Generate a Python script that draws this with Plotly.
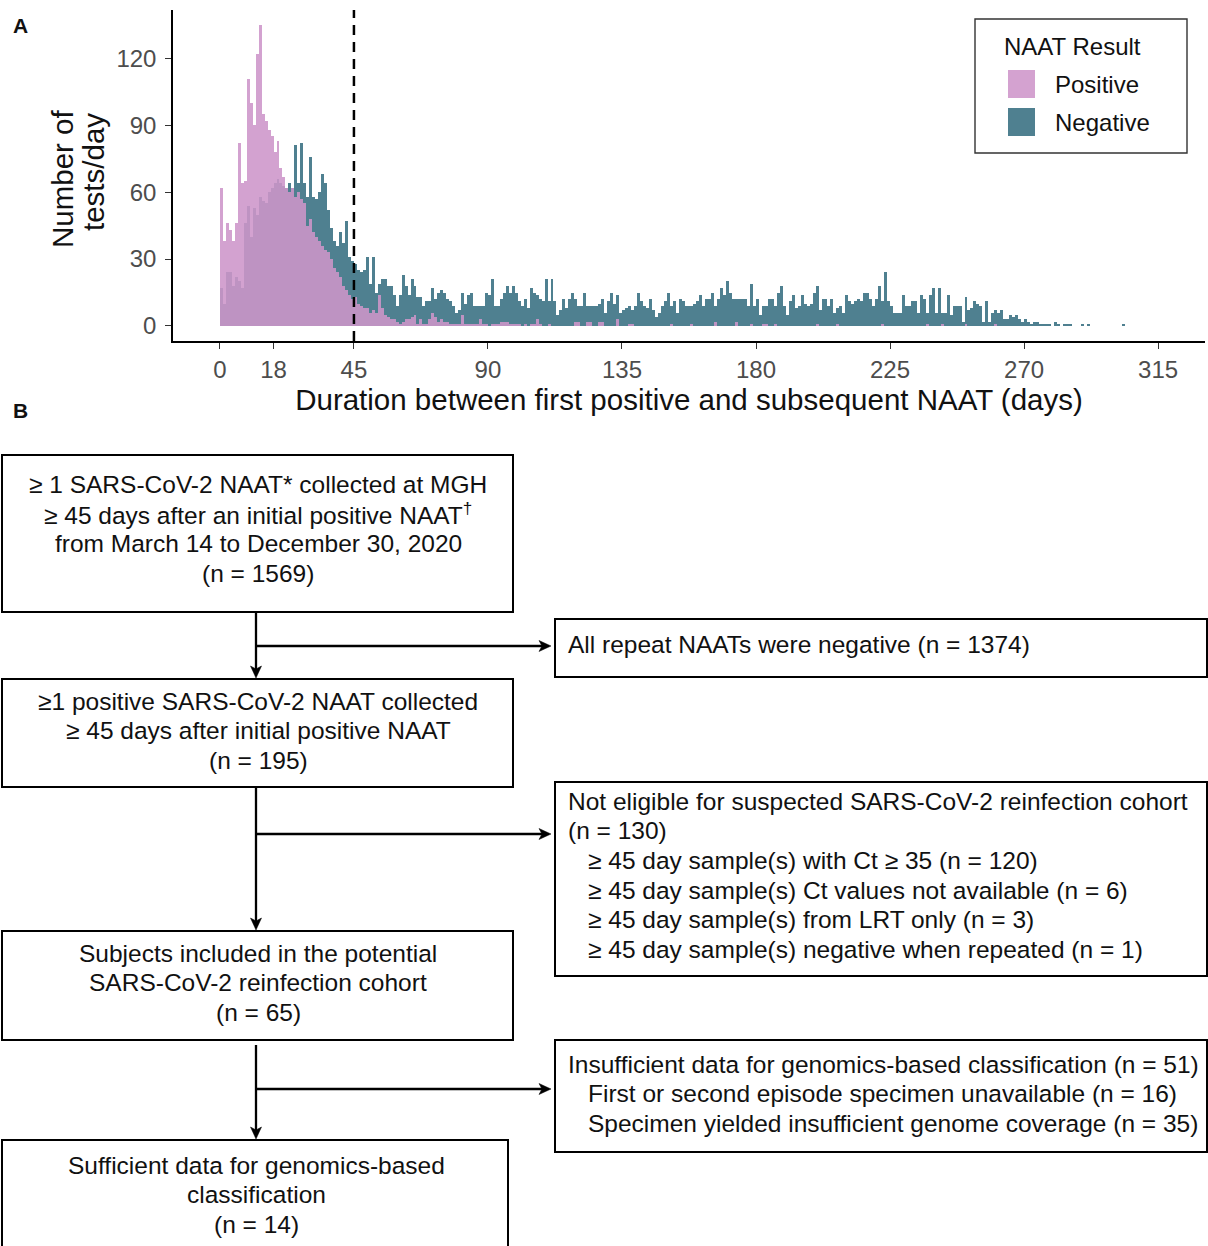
import plotly.graph_objects as go

W, H = 1208, 1246

# ---------------- Data ----------------
days = list(range(0, 315))

negative = [
    17, 10, 24, 24, 18, 22, 20, 17, 46, 54, 40, 53, 50, 58, 56, 55, 60, 62, 64, 66,
    64, 63, 62, 64, 62, 81, 64, 82, 64, 58, 76, 58, 57, 60, 68, 64, 52, 44, 38, 36,
    42, 37, 47, 31, 29, 28, 25, 24, 25, 31, 19, 31, 15, 19, 21, 21, 18, 18, 14, 9,
    14, 23, 18, 14, 21, 18, 13, 13, 9, 11, 11, 17, 12, 15, 16, 15, 12, 11, 9, 6,
    7, 15, 10, 14, 15, 9, 9, 9, 9, 15, 14, 21, 9, 9, 12, 15, 18, 15, 18, 15,
    11, 9, 12, 8, 17, 15, 14, 12, 11, 21, 11, 21, 11, 5, 7, 12, 8, 12, 15, 12,
    9, 9, 15, 9, 9, 9, 9, 10, 12, 6, 11, 15, 10, 14, 6, 7, 8, 9, 7, 9,
    15, 11, 9, 8, 12, 7, 4, 6, 9, 11, 15, 9, 11, 6, 12, 11, 9, 9, 9, 10,
    11, 14, 9, 12, 12, 15, 9, 12, 17, 14, 20, 15, 12, 12, 12, 12, 12, 9, 19, 9,
    12, 5, 9, 9, 12, 12, 9, 15, 18, 9, 5, 11, 14, 8, 9, 14, 10, 9, 10, 15,
    18, 7, 12, 12, 9, 12, 6, 8, 9, 6, 14, 11, 10, 11, 12, 11, 15, 15, 12, 9,
    12, 18, 11, 24, 11, 9, 6, 6, 6, 14, 9, 9, 11, 11, 6, 14, 12, 6, 14, 17,
    6, 17, 6, 6, 14, 5, 9, 9, 9, 2, 13, 7, 8, 11, 10, 9, 2, 11, 2, 6,
    7, 6, 7, 3, 3, 5, 4, 5, 3, 2, 3, 2, 1, 2, 2, 1, 1, 1, 1, 0,
    2, 1, 0, 1, 1, 1, 0, 0, 0, 1, 0, 1, 0, 0, 0, 0, 0, 0, 0, 0,
    0, 0, 0, 1, 0,
]

positive = [
    62, 38, 46, 43, 38, 46, 82, 64, 65, 111, 100, 90, 122, 135, 95, 92, 88, 85, 78, 83,
    71, 67, 62, 60, 62, 58, 60, 57, 55, 45, 48, 42, 40, 38, 36, 34, 33, 30, 26, 24,
    22, 18, 16, 14, 12, 13, 10, 9, 8, 8, 6, 7, 6, 14, 8, 5, 4, 3, 3, 2,
    1, 2, 3, 3, 4, 5, 1, 3, 1, 1, 3, 6, 4, 2, 3, 2, 2, 1, 1, 1,
    1, 5, 1, 1, 1, 1, 1, 3, 1, 1, 0, 1, 1, 1, 2, 2, 2, 1, 1, 1,
    1, 0, 1, 0, 1, 1, 3, 1, 0, 0, 1, 0, 0, 0, 0, 0, 0, 0, 0, 2,
    2, 0, 0, 2, 2, 0, 0, 2, 2, 0, 0, 0, 0, 3, 0, 0, 0, 1, 1, 0,
    0, 0, 0, 0, 0, 0, 0, 0, 0, 0, 0, 1, 0, 0, 0, 0, 0, 0, 1, 0,
    0, 0, 0, 0, 0, 0, 2, 0, 0, 0, 0, 0, 0, 2, 0, 0, 0, 0, 1, 0,
    0, 0, 1, 1, 0, 0, 1, 0, 0, 0, 0, 0, 0, 0, 0, 0, 0, 0, 0, 0,
    1, 0, 0, 0, 0, 0, 0, 1, 0, 0, 0, 0, 0, 0, 0, 0, 0, 0, 0, 0,
    0, 0, 1, 0, 0, 0, 0, 0, 0, 0, 0, 0, 0, 0, 0, 0, 0, 1, 0, 0,
    0, 0, 1, 0, 0, 0, 0, 0, 0, 0, 1, 0, 0, 0, 0, 0, 0, 0, 0, 0,
    1, 0, 0, 0, 0, 0, 0, 0, 0, 0, 0, 0, 0, 0, 0, 0, 0, 0, 0, 0,
    0, 0, 0, 0, 0, 0, 0, 0, 0, 0, 0, 0, 0, 0, 0, 0, 0, 0, 0, 0,
    0, 0, 0, 0, 0,
]

x_ticks = [0, 18, 45, 90, 135, 180, 225, 270, 315]
y_ticks = [0, 30, 60, 90, 120]
cutoff_day = 45

x_title = "Duration between first positive and subsequent NAAT (days)"
y_title_lines = ["Number of", "tests/day"]
legend_title = "NAAT Result"
legend_labels = ["Positive", "Negative"]

# Flowchart text
box1_lines = ["≥ 1 SARS-CoV-2 NAAT* collected at MGH",
              "≥ 45 days after an initial positive NAAT<sup>†</sup>",
              "from March 14 to December 30, 2020",
              "(n = 1569)"]
box2_lines = ["≥1 positive SARS-CoV-2 NAAT collected",
              "≥ 45 days after initial positive NAAT",
              "(n = 195)"]
box3_lines = ["Subjects included in the potential",
              "SARS-CoV-2 reinfection cohort",
              "(n = 65)"]
box4_lines = ["Sufficient data for genomics-based",
              "classification",
              "(n = 14)"]
side1_lines = [("All repeat NAATs were negative (n = 1374)", 0)]
side2_lines = [("Not eligible for suspected SARS-CoV-2 reinfection cohort", 0),
               ("(n = 130)", 0),
               ("≥ 45 day sample(s) with Ct ≥ 35 (n = 120)", 1),
               ("≥ 45 day sample(s) Ct values not available (n = 6)", 1),
               ("≥ 45 day sample(s) from LRT only (n = 3)", 1),
               ("≥ 45 day sample(s) negative when repeated (n = 1)", 1)]
side3_lines = [("Insufficient data for genomics-based classification (n = 51)", 0),
               ("First or second episode specimen unavailable (n = 16)", 1),
               ("Specimen yielded insufficient genome coverage (n = 35)", 1)]

# ---------------- Styling ----------------
FONT = "Liberation Sans, Arial, Helvetica, sans-serif"
TEAL = "#4F8090"
PINK = "rgb(206,150,202)"
PINK_OP = 0.88
PINK_SWATCH = "rgb(212,162,208)"
TXT = "#111111"


def px(x):
    return x / W


def py(y):
    return 1 - y / H


fig = go.Figure()
fig.add_trace(go.Bar(x=[d + 0.5 for d in days], y=negative, width=1,
                     marker=dict(color=TEAL, line=dict(width=0)),
                     name=legend_labels[1], showlegend=False))
fig.add_trace(go.Bar(x=[d + 0.5 for d in days], y=positive, width=1,
                     marker=dict(color=PINK, line=dict(width=0)), opacity=PINK_OP,
                     name=legend_labels[0], showlegend=False))

shapes = []
annotations = []

# dashed cutoff line
shapes.append(dict(type="line", xref="x", yref="y domain", x0=cutoff_day, x1=cutoff_day,
                   y0=0, y1=1, line=dict(color="black", width=2.5, dash="10px,7px")))

# manual legend
shapes.append(dict(type="rect", xref="paper", yref="paper", x0=px(975), x1=px(1187),
                   y0=py(19), y1=py(153), line=dict(color="#333333", width=1.4)))
shapes.append(dict(type="rect", xref="paper", yref="paper", x0=px(1008), x1=px(1035),
                   y0=py(70), y1=py(98), line=dict(width=0), fillcolor=PINK_SWATCH))
shapes.append(dict(type="rect", xref="paper", yref="paper", x0=px(1008), x1=px(1035),
                   y0=py(108), y1=py(136), line=dict(width=0), fillcolor=TEAL))


def txt(x, y, s, size=24, anchor="left", color=TXT, bold=False, angle=0):
    annotations.append(dict(xref="paper", yref="paper", x=px(x), y=py(y),
                            text=("<b>%s</b>" % s) if bold else s, showarrow=False,
                            xanchor=anchor, yanchor="middle", textangle=angle,
                            font=dict(family=FONT, size=size, color=color)))


txt(1002, 47, legend_title)
txt(1053, 85, legend_labels[0])
txt(1053, 122, legend_labels[1])

# panel letters
txt(11, 25, "A", size=21, bold=True)
txt(11, 411, "B", size=21, bold=True)

# y-axis title (two rotated lines, tight leading as in the reference)
txt(63, 179, y_title_lines[0], size=29.5, anchor="center", angle=-90)
txt(94, 172, y_title_lines[1], size=29.5, anchor="center", angle=-90)

# ---------------- Flowchart ----------------
FS = 24.5


def box(x0, y0, x1, y1):
    shapes.append(dict(type="rect", xref="paper", yref="paper", x0=px(x0), x1=px(x1),
                       y0=py(y0), y1=py(y1), line=dict(color="black", width=2)))


def centered(lines, cx, y0, step=29.7):
    for i, s in enumerate(lines):
        txt(cx, y0 + i * step, s, size=FS, anchor="center")


def lefted(lines, x0, y0, step=29.7):
    for i, (s, ind) in enumerate(lines):
        txt(x0 + 20 * ind, y0 + i * step, s, size=FS, anchor="left")


def seg(x0, y0, x1, y1):
    shapes.append(dict(type="line", xref="paper", yref="paper", x0=px(x0), y0=py(y0),
                       x1=px(x1), y1=py(y1), line=dict(color="black", width=2.3)))


def head(xt, yt, direction, L=12, hw=5.5, notch=3):
    if direction == "down":
        pts = [(xt, yt), (xt - hw, yt - L), (xt, yt - L + notch), (xt + hw, yt - L)]
    else:  # right
        pts = [(xt, yt), (xt - L, yt - hw), (xt - L + notch, yt), (xt - L, yt + hw)]
    path = "M " + " L ".join("%.6f,%.6f" % (px(a), py(b)) for a, b in pts) + " Z"
    shapes.append(dict(type="path", xref="paper", yref="paper", path=path,
                       fillcolor="black", line=dict(color="black", width=0.5)))


AX = 256
# box1 -> box2, branch to side box 1
seg(AX, 612, AX, 670)
head(AX, 678, "down")
seg(AX, 646, 543, 646)
head(551, 646, "right")
# box2 -> box3, branch to side box 2
seg(AX, 787, AX, 922)
head(AX, 930, "down")
seg(AX, 834, 543, 834)
head(551, 834, "right")
# box3 -> box4, branch to side box 3
seg(AX, 1045, AX, 1131)
head(AX, 1139, "down")
seg(AX, 1089, 543, 1089)
head(551, 1089, "right")

box(2, 455, 513, 612)
centered(box1_lines, 258, 484)
box(2, 679, 513, 787)
centered(box2_lines, 258, 701)
box(2, 931, 513, 1040)
centered(box3_lines, 258, 953)
box(2, 1140, 508, 1260)
centered(box4_lines, 256, 1165)

box(555, 619, 1207, 677)
lefted(side1_lines, 566, 644)
box(555, 782, 1207, 976)
lefted(side2_lines, 566, 801)
box(555, 1040, 1207, 1152)
lefted(side3_lines, 566, 1064)

fig.update_layout(
    width=W, height=H, margin=dict(l=0, r=0, t=0, b=0),
    paper_bgcolor="white", plot_bgcolor="white",
    barmode="overlay", bargap=0, showlegend=False,
    shapes=shapes, annotations=annotations,
    font=dict(family=FONT, color=TXT),
    xaxis=dict(domain=[px(173), px(1205)], range=[-15.75, 330.75], tickmode="array",
               tickvals=x_ticks, ticktext=[str(v) for v in x_ticks],
               showgrid=False, zeroline=False, showline=True, linecolor="black",
               linewidth=1.5, ticks="outside", ticklen=6, tickwidth=1.3,
               tickcolor="#333333", tickfont=dict(family=FONT, size=24, color="#4D4D4D"),
               title=dict(text=x_title, standoff=4,
                          font=dict(family=FONT, size=29.5, color=TXT)),
               anchor="y"),
    yaxis=dict(domain=[py(341), py(10)], range=[-6.75, 141.75], tickmode="array",
               tickvals=y_ticks, ticktext=[str(v) for v in y_ticks],
               showgrid=False, zeroline=False, showline=True, linecolor="black",
               linewidth=1.5, ticks="outside", ticklen=6, tickwidth=1.3,
               tickcolor="#333333", tickfont=dict(family=FONT, size=24, color="#4D4D4D"),
               ticklabelstandoff=4, anchor="x"),
)

fig.write_html("out.html", config={"displayModeBar": False},
               post_script="document.body.style.margin='0px';document.body.style.overflow='hidden';")
